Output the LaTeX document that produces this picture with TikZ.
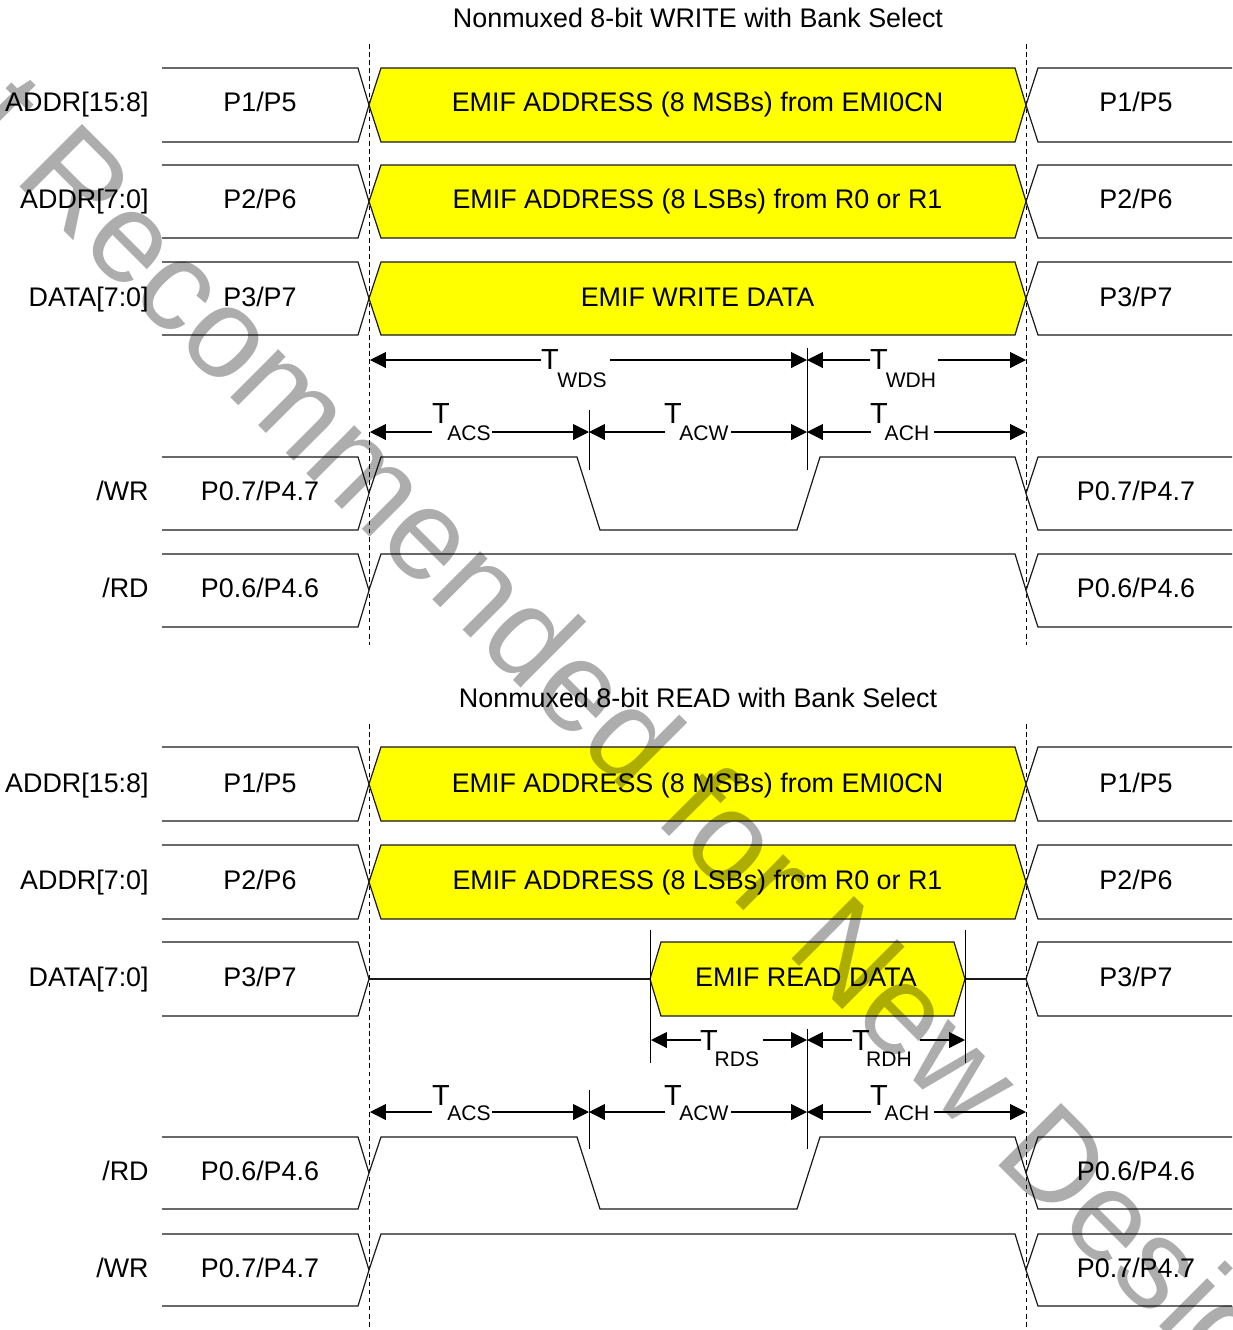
\documentclass[tikz,border=0pt]{standalone}
\usepackage{fontspec}
\setmainfont{Liberation Sans}
\usetikzlibrary{arrows.meta}
\newcommand{\busA}[2]{% left and right bus segments: top, bottom
  \draw[sig] (162,#1) -- (358,#1) -- (369,{(#1+#2)/2}) -- (358,#2) -- (162,#2);
  \draw[sig] (1232,#1) -- (1038,#1) -- (1026,{(#1+#2)/2}) -- (1038,#2) -- (1232,#2);
}
\newcommand{\yellowbus}[4]{% top, bottom, text centre y, text
  \busA{#1}{#2}
  \draw[sig,fill=sigyellow] (381,#1) -- (1015,#1) -- (1026,{(#1+#2)/2}) -- (1015,#2) -- (381,#2) -- (369,{(#1+#2)/2}) -- cycle;
  \node[lab] at (697.5,{#3+9}) {#4};
}
\newcommand{\rowtext}[5]{% name, y, signal, left text, right text
  \node[sname] (#1-n) at (149,{#2+9}) {#3};
  \node[lab] (#1-l) at (260,{#2+9}) {#4};
  \node[lab] (#1-r) at (1136,{#2+9}) {#5};
}
% name, x1, x2, y, gapL, gapR, Tx, Ty, then sub, sx, sy
\newcommand{\dimarrow}[8]{%
  \coordinate (#1-a) at (#2,#4);
  \coordinate (#1-b) at (#3,#4);
  \coordinate (#1-gl) at (#5,#4);
  \coordinate (#1-gr) at (#6,#4);
  \draw[dim,{Triangle[length=9pt,width=9pt]}-] (#1-a) -- (#1-gl);
  \draw[dim,-{Triangle[length=9pt,width=9pt]}] (#1-gr) -- (#1-b);
  \node[tlab] (#1-t) at (#7,#8) {T};
  \dimsub{#1}%
}
\newcommand{\dimsub}[4]{\node[slab] (#1-s) at (#3,#4) {#2};}
\tikzset{
  x=0.02cm,y=-0.02cm,
  sig/.style={draw=black!90,line width=0.68pt,line join=miter},
  dim/.style={draw=black,line width=0.62pt},
  vmark/.style={draw=black,line width=0.55pt},
  dashv/.style={draw=black,line width=0.55pt,dash pattern=on 2.6pt off 2pt},
  lab/.style={inner sep=0pt,anchor=base,font=\fontsize{15.3}{17}\selectfont},
  sname/.style={inner sep=0pt,anchor=base east,font=\fontsize{15.3}{17}\selectfont},
  tlab/.style={inner sep=0pt,font=\fontsize{16.5}{18}\selectfont},
  slab/.style={inner sep=0pt,font=\fontsize{12}{14}\selectfont},
  wmark/.style={inner sep=0pt,anchor=base west,rotate=-45,text=black!32,font=\fontsize{73.1}{80}\selectfont},
}
\definecolor{sigyellow}{RGB}{255,255,0}
\begin{document}
\begin{tikzpicture}
\useasboundingbox (0,0) rectangle (1233,1330);
\fill[white] (0,0) rectangle (1233,1330);

% ---- WRITE ----
\node[lab] (title1) at (698,27) {Nonmuxed 8-bit WRITE with Bank Select};
\draw[dashv] (369,44) -- (369,645);
\draw[dashv] (1026,44) -- (1026,645);
\yellowbus{68}{142}{102}{EMIF ADDRESS (8 MSBs) from EMI0CN}
\yellowbus{165}{238}{199}{EMIF ADDRESS (8 LSBs) from R0 or R1}
\yellowbus{262}{335}{297}{EMIF WRITE DATA}
\rowtext{w1}{102}{ADDR[15:8]}{P1/P5}{P1/P5}
\rowtext{w2}{199}{ADDR[7:0]}{P2/P6}{P2/P6}
\rowtext{w3}{297}{DATA[7:0]}{P3/P7}{P3/P7}
\busA{457}{530}
\busA{554}{627}
\draw[sig] (369,493) -- (381,457) -- (577,457) -- (600,530) -- (797,530) -- (820,457) -- (1015,457) -- (1026,493);
\draw[sig] (369,590) -- (381,554) -- (1015,554) -- (1026,590);
\rowtext{w4}{491}{/WR}{P0.7/P4.7}{P0.7/P4.7}
\rowtext{w5}{588}{/RD}{P0.6/P4.6}{P0.6/P4.6}
\draw[vmark] (807,348) -- (807,470);
\draw[vmark] (589,410) -- (589,470);
\dimarrow{wds}{370}{807}{360}{541}{610}{550}{360}{WDS}{582}{380}
\dimarrow{wdh}{807}{1026}{360}{870}{938}{879}{360}{WDH}{911}{380}
\dimarrow{wacs}{370}{589}{432}{432}{492}{441}{414}{ACS}{469}{433}
\dimarrow{wacw}{589}{807}{432}{665}{731}{673}{414}{ACW}{704}{433}
\dimarrow{wach}{807}{1026}{432}{871}{934}{879}{414}{ACH}{907}{433}

% ---- READ ----
\node[lab] (title2) at (698,707) {Nonmuxed 8-bit READ with Bank Select};
\draw[dashv] (369,724) -- (369,1330);
\draw[dashv] (1026,724) -- (1026,1330);
\yellowbus{747}{821}{783}{EMIF ADDRESS (8 MSBs) from EMI0CN}
\yellowbus{845}{919}{880}{EMIF ADDRESS (8 LSBs) from R0 or R1}
\rowtext{r1}{783}{ADDR[15:8]}{P1/P5}{P1/P5}
\rowtext{r2}{880}{ADDR[7:0]}{P2/P6}{P2/P6}
\busA{942}{1016}
\draw[sig] (369,979) -- (650,979);
\draw[sig] (965,979) -- (1026,979);
\draw[sig,fill=sigyellow] (661,942) -- (954,942) -- (965,979) -- (954,1016) -- (661,1016) -- (650,979) -- cycle;
\node[lab] (rdata) at (806,986) {EMIF READ DATA};
\rowtext{r3}{977}{DATA[7:0]}{P3/P7}{P3/P7}
\busA{1137}{1209}
\busA{1234}{1306}
\draw[sig] (369,1173) -- (381,1137) -- (577,1137) -- (600,1209) -- (797,1209) -- (820,1137) -- (1015,1137) -- (1026,1173);
\draw[sig] (369,1270) -- (381,1234) -- (1015,1234) -- (1026,1270);
\rowtext{r4}{1171}{/RD}{P0.6/P4.6}{P0.6/P4.6}
\rowtext{r5}{1268}{/WR}{P0.7/P4.7}{P0.7/P4.7}
\draw[vmark] (650,930) -- (650,1063);
\draw[vmark] (965,930) -- (965,1063);
\draw[vmark] (807,1029) -- (807,1149);
\draw[vmark] (589,1090) -- (589,1149);
\dimarrow{rds}{651}{807}{1040}{701}{763}{709}{1041}{RDS}{737}{1059}
\dimarrow{rdh}{807}{965}{1040}{852}{920}{861}{1041}{RDH}{889}{1059}
\dimarrow{racs}{370}{589}{1112}{432}{492}{441}{1096}{ACS}{469}{1113}
\dimarrow{racw}{589}{807}{1112}{665}{731}{673}{1096}{ACW}{704}{1113}
\dimarrow{rach}{807}{1026}{1112}{871}{934}{879}{1096}{ACH}{907}{1113}

% ---- watermark ----
\begin{scope}[blend mode=multiply]
\clip (0,0) rectangle (1233,1330);
\node[wmark] (wm) at (-154,13) {Not Recommended for New Designs};
\end{scope}
\end{tikzpicture}
\end{document}
